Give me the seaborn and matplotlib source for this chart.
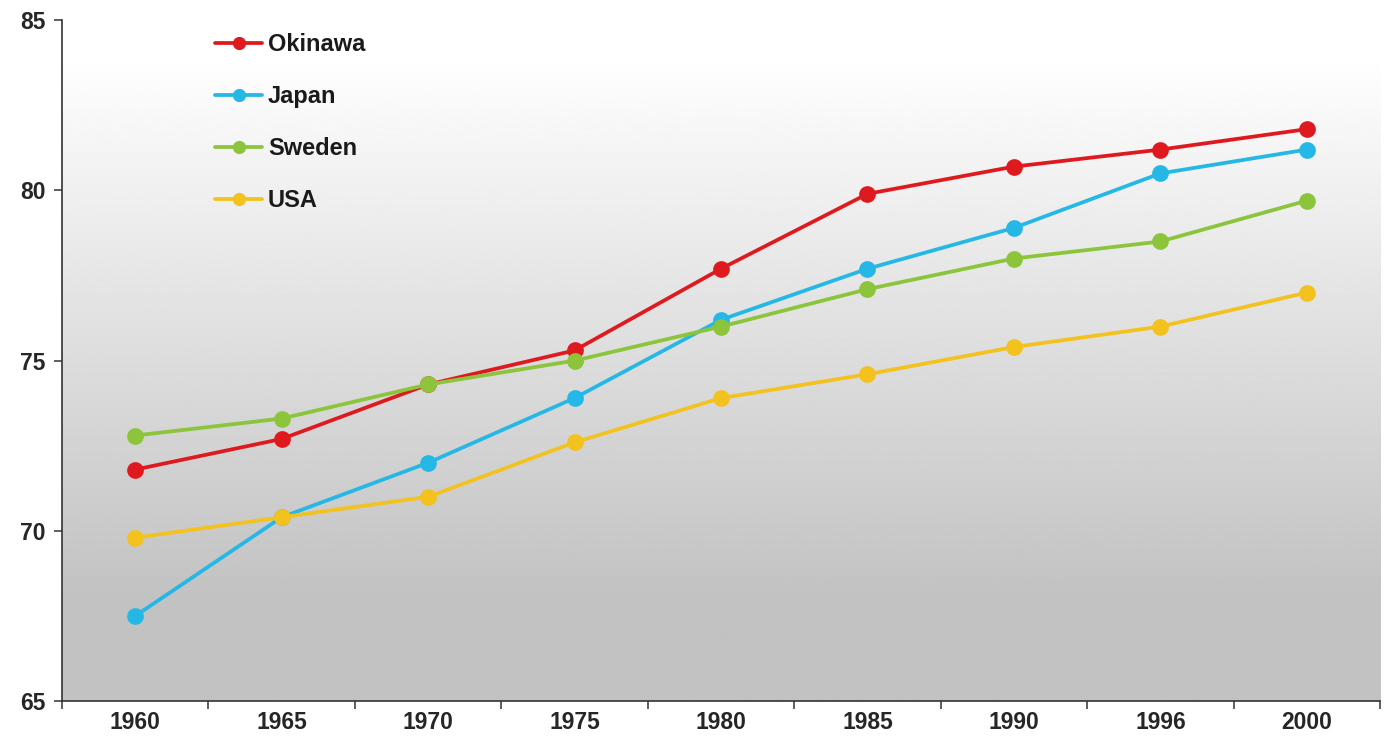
import numpy as np
import pandas as pd
import matplotlib
matplotlib.use("Agg")
import matplotlib.pyplot as plt
import seaborn as sns
from matplotlib.lines import Line2D
from matplotlib.ticker import FixedLocator

# Life expectancy at birth (years)
years = ["1960", "1965", "1970", "1975", "1980", "1985", "1990", "1996", "2000"]
okinawa = [71.8, 72.7, 74.3, 75.3, 77.7, 79.9, 80.7, 81.2, 81.8]
japan = [67.5, 70.4, 72.0, 73.9, 76.2, 77.7, 78.9, 80.5, 81.2]
sweden = [72.8, 73.3, 74.3, 75.0, 76.0, 77.1, 78.0, 78.5, 79.7]
usa = [69.8, 70.4, 71.0, 72.6, 73.9, 74.6, 75.4, 76.0, 77.0]
regions = ["Okinawa", "Japan", "Sweden", "USA"]
y_ticks = [65, 70, 75, 80, 85]

palette = {"Okinawa": "#de1a1f", "Japan": "#25b7e6", "Sweden": "#8cc43c", "USA": "#f3c21e"}

series = {"Okinawa": okinawa, "Japan": japan, "Sweden": sweden, "USA": usa}
df = pd.DataFrame(
    [(yr, name, v) for name in regions for yr, v in zip(years, series[name])],
    columns=["year", "region", "value"],
)

sns.set_theme(style="white")
plt.rcParams["font.family"] = ["Liberation Sans", "DejaVu Sans"]

fig = plt.figure(figsize=(13.94, 7.49), dpi=100)
ax = fig.add_axes([0.0445, 0.064, 0.9455, 0.909])

# vertical grey-to-white gradient behind the plot area
frac = np.linspace(0, 1, 400)
shade = np.clip(0.76 + (frac - 0.15) / 0.8 * 0.24, 0.76, 1.0)
ax.imshow(shade[:, None], extent=(-0.5, 8.5, 65, 85), origin="lower",
          aspect="auto", cmap="gray", vmin=0, vmax=1, zorder=0)

sns.pointplot(data=df, x="year", y="value", hue="region", order=years,
              hue_order=regions, palette=palette, markers="o",
              markersize=10, linewidth=2.7, errorbar=None, legend=False,
              ax=ax, zorder=3)

ax.set_xlim(-0.5, 8.5)
ax.set_ylim(65, 85)
ax.set_xlabel("")
ax.set_ylabel("")

for s in ["top", "right"]:
    ax.spines[s].set_visible(False)
for s in ["left", "bottom"]:
    ax.spines[s].set_color("#333333")
    ax.spines[s].set_linewidth(1.2)

ax.set_yticks(y_ticks)
ax.set_yticklabels([str(t) for t in y_ticks], fontweight="bold")
ax.set_xticks(range(len(years)))
ax.set_xticklabels(years, fontweight="bold")
ax.xaxis.set_minor_locator(FixedLocator(np.arange(-0.5, len(years), 1.0)))
ax.tick_params(axis="x", which="major", length=0, pad=7, labelsize=16.5, labelcolor="#262626")
ax.tick_params(axis="x", which="minor", bottom=True, length=6, width=1.1, color="#333333", direction="out")
ax.tick_params(axis="y", which="major", left=True, length=6, width=1.1, color="#333333",
               direction="out", pad=6, labelsize=16.5, labelcolor="#262626")

handles = [Line2D([0], [0], color=palette[r], lw=2.7, marker="o", markersize=8.5) for r in regions]
ax.legend(handles, regions, loc="upper left", bbox_to_anchor=(0.116, 0.981),
          frameon=False, prop={"size": 17, "weight": "bold"}, labelspacing=1.23,
          handlelength=2.0, handletextpad=0.25, borderpad=0, borderaxespad=0,
          labelcolor="#1a1a1a")

fig.savefig("out.png", dpi=100)
